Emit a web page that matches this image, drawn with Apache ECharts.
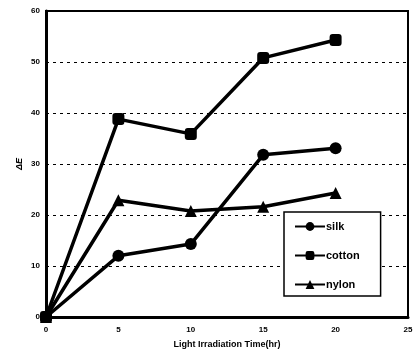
<!DOCTYPE html>
<html><head><meta charset="utf-8">
<script src="https://cdn.jsdelivr.net/npm/echarts@6/dist/echarts.min.js"></script>
<style>html,body{margin:0;padding:0;background:#fff}#c{width:416px;height:356px}</style>
</head><body><div id="c"></div>
<script>
var xTimes = [0, 5, 10, 15, 20];
var silk = [0, 12.0, 14.3, 31.8, 33.1];
var cotton = [0, 38.8, 35.9, 50.8, 54.3];
var nylon = [0, 22.9, 20.8, 21.6, 24.3];
var seriesNames = ['silk', 'cotton', 'nylon'];

function pairs(arr){ return xTimes.map(function(x,i){ return [x, arr[i]]; }); }
var font = 'Liberation Sans, Arial, sans-serif';
function mk(name, data, symbol, size){
  return {name:name, type:'line', data:pairs(data), symbol:symbol, symbolSize:size,
    lineStyle:{color:'#000', width:3.5}, itemStyle:{color:'#000'}, z:3};
}
var chart = echarts.init(document.getElementById('c'));
chart.setOption({
  animation:false,
  grid:{left:46, right:8, top:11, bottom:39, show:true, borderColor:'#000', borderWidth:2},
  xAxis:{type:'value', min:0, max:25, interval:5,
    name:'Light Irradiation Time(hr)', nameLocation:'middle', nameGap:23,
    nameTextStyle:{fontFamily:font, fontWeight:'bold', fontSize:9, color:'#000'},
    axisLine:{lineStyle:{color:'#000', width:3}}, axisTick:{show:false},
    axisLabel:{fontFamily:font, fontWeight:'bold', fontSize:8, color:'#000', margin:9},
    splitLine:{show:false}},
  yAxis:{type:'value', min:0, max:60, interval:10,
    name:'ΔE', nameLocation:'middle', nameGap:22, nameRotate:90, nameMoveOverlap:false,
    nameTextStyle:{fontFamily:font, fontWeight:'bold', fontStyle:'italic', fontSize:9, color:'#000'},
    axisLine:{lineStyle:{color:'#000', width:3}}, axisTick:{show:false},
    axisLabel:{fontFamily:font, fontWeight:'bold', fontSize:8, color:'#000', margin:6},
    splitLine:{show:true, lineStyle:{color:'#000', type:[3,4], width:1}}},
  legend:{orient:'vertical', left:284, top:212,
    backgroundColor:'#fff', borderColor:'#000', borderWidth:1.5,
    padding:[9,21,6,10], itemGap:18, itemWidth:30, itemHeight:11,
    textStyle:{fontFamily:font, fontSize:11, fontWeight:'bold', color:'#000', padding:[0,0,0,-4]},
    data:seriesNames},
  series:[mk('silk', silk, 'circle', 12), mk('cotton', cotton, 'roundRect', 12), mk('nylon', nylon, 'triangle', 12)]
});
</script></body></html>
